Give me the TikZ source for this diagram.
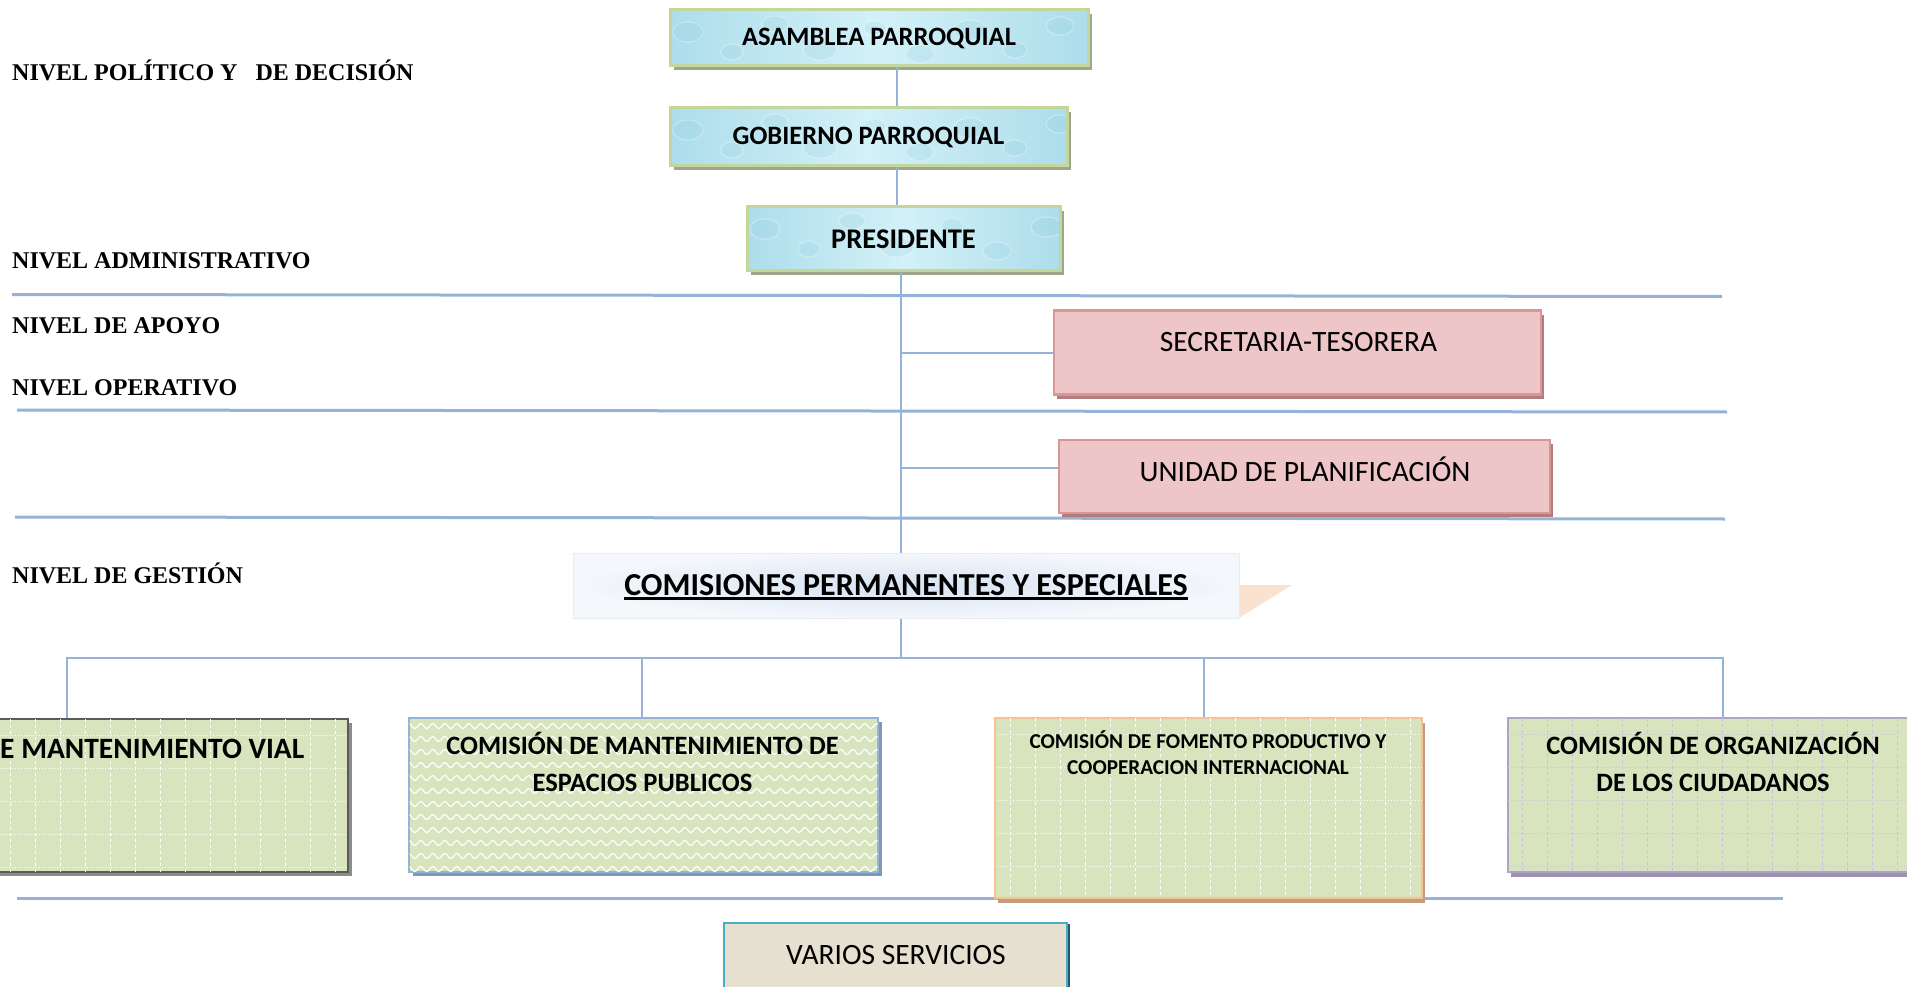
\documentclass[tikz,border=0pt]{standalone}
\usepackage{fontspec}
\setmainfont{Carlito}
\newfontfamily\lvfont{Liberation Serif}
\usetikzlibrary{decorations.pathmorphing,shadows}
\definecolor{linecol}{HTML}{95B3D7}
\definecolor{blueA}{HTML}{ADDDEB}
\definecolor{blueB}{HTML}{D3F1F8}
\definecolor{bubble}{HTML}{8FCCE0}
\definecolor{blueborder}{HTML}{C3D69B}
\definecolor{blueshadow}{HTML}{9EA68C}
\definecolor{pinkfill}{HTML}{EFC6C7}
\definecolor{pinkborder}{HTML}{D99694}
\definecolor{pinkshadow}{HTML}{B27C7E}
\definecolor{comin}{HTML}{D6E3F3}
\definecolor{comout}{HTML}{F4F7FB}
\definecolor{comborder}{HTML}{E6ECF3}
\definecolor{peach}{HTML}{FBE2CF}
\definecolor{greenfill}{HTML}{D7E4BD}
\definecolor{grayborder}{HTML}{5A5A5A}
\definecolor{grayshadow}{HTML}{8C8C8C}
\definecolor{b2shadow}{HTML}{7E98BA}
\definecolor{orborder}{HTML}{FAC090}
\definecolor{orshadow}{HTML}{C49A80}
\definecolor{puborder}{HTML}{B3A2C7}
\definecolor{pushadow}{HTML}{9C91AE}
\definecolor{pugrid}{HTML}{C9C2D9}
\definecolor{beige}{HTML}{E6E0D1}
\definecolor{tealborder}{HTML}{4BACC6}
\definecolor{tealshadow}{HTML}{23596A}
\newcommand\thickul[1]{\vtop{\hbox{#1}\kern2pt\hrule height 2.5pt}}
\tikzset{
  lvl/.style={inner sep=0pt, anchor=base west, font=\lvfont\bfseries\fontsize{24}{28}\selectfont},
  bubbles/.style={path picture={
    \foreach \bx/\by/\rx/\ry in {18/22/15/10, 62/42/11/8, 105/14/13/8, 150/40/17/10, 205/18/11/7, 250/44/14/9, 300/20/16/10, 345/40/12/8, 390/16/14/9}
      \draw[draw=white, draw opacity=.3, line width=1.2pt, fill=bubble, fill opacity=.18]
        ([shift={(\bx,\by)}]path picture bounding box.north west) ellipse [x radius=\rx pt, y radius=\ry pt];
  }},
  bluebox/.style={draw=blueborder, line width=3pt, left color=blueA, right color=blueA, middle color=blueB,
    general shadow={fill=blueshadow, shadow xshift=4pt, shadow yshift=-4pt}, inner sep=0pt, bubbles,
    font=\bfseries\fontsize{26.5}{30}\selectfont},
  pinkbox/.style={draw=pinkborder, line width=2.5pt, fill=pinkfill,
    general shadow={fill=pinkshadow, shadow xshift=3pt, shadow yshift=-4pt}, inner sep=0pt},
  conn/.style={draw=linecol, line width=2pt},
  lvline/.style={draw=linecol, line width=3pt},
  rtxt/.style={inner sep=0pt, anchor=base, font=\fontsize{29.5}{33}\selectfont},
  btxt/.style={inner sep=0pt, anchor=base, font=\bfseries\fontsize{26.5}{30}\selectfont},
  stxt/.style={inner sep=0pt, anchor=base, font=\bfseries\fontsize{21.2}{24}\selectfont},
  gridv/.style={draw=white, line width=1pt, dash pattern=on 3pt off 3pt},
  gridh/.style={draw=white, line width=1pt, dash pattern=on 1pt off 2pt},
  wave/.style={draw=white, line width=1.2pt, decorate, decoration={snake, segment length=12pt, amplitude=2.5pt}},
}
\begin{document}
\begin{tikzpicture}[x=1pt,y=-1pt]
\useasboundingbox (0,0) rectangle (1907,987);
% level separator lines
\draw[lvline] (12,294.5) -- (1722,296.5);
\draw[lvline] (17,410) -- (1727,412);
\draw[lvline] (15,517) -- (1725,519);
\draw[lvline] (17,898) -- (1783,898);
% level labels
\node[lvl] (l1) at (12,81) {NIVEL POLÍTICO Y\ \ \ DE DECISIÓN};
\node[lvl] (l2) at (12,269) {NIVEL ADMINISTRATIVO};
\node[lvl] (l3) at (12,333) {NIVEL DE APOYO};
\node[lvl] (l4) at (12,395) {NIVEL OPERATIVO};
\node[lvl] (l5) at (12,583) {NIVEL DE GESTIÓN};
% top boxes
\node[bluebox, minimum width=418pt, minimum height=56pt] (asm) at (879,38) {ASAMBLEA PARROQUIAL};
\node[bluebox, minimum width=397pt, minimum height=58pt] (gob) at (868.5,137) {GOBIERNO PARROQUIAL};
\node[bluebox, minimum width=313pt, minimum height=64pt, font=\bfseries\fontsize{28.5}{32}\selectfont] (pres) at (903.5,239) {PRESIDENTE};
% support boxes
\node[pinkbox, minimum width=487pt, minimum height=84pt] (sec) at (1297.5,352.5) {};
\node[rtxt] (sect) at (1298.5,351) {SECRETARIA-TESORERA};
\node[pinkbox, minimum width=491pt, minimum height=73pt] (uni) at (1304.5,476.5) {};
\node[rtxt] (unit) at (1305,481) {UNIDAD DE PLANIFICACIÓN};
% commissions title
\fill[peach] (1239,585) -- (1292,585) -- (1239,618) -- cycle;
\node[draw=comborder, line width=1pt, inner color=comin, outer color=comout, minimum width=666pt, minimum height=65pt, inner sep=0pt] (com) at (906,585.5) {};
\node[inner sep=0pt, anchor=base, font=\bfseries\fontsize{32}{36}\selectfont] (comt) at (906,595) {\thickul{COMISIONES PERMANENTES Y ESPECIALES}};
% commission boxes
\node[draw=grayborder, line width=2pt, fill=greenfill, general shadow={fill=grayshadow, shadow xshift=4pt, shadow yshift=-4pt},
  minimum width=393pt, minimum height=153pt, inner sep=0pt] (b1) at (151.5,795.5) {};
\node[draw=linecol, line width=2pt, fill=greenfill, general shadow={fill=b2shadow, shadow xshift=4pt, shadow yshift=-4pt},
  minimum width=469pt, minimum height=154pt, inner sep=0pt] (b2) at (643.5,795) {};
\node[draw=orborder, line width=2pt, fill=greenfill, general shadow={fill=orshadow, shadow xshift=3pt, shadow yshift=-5pt},
  minimum width=427pt, minimum height=180pt, inner sep=0pt] (b3) at (1208.5,808) {};
\node[draw=puborder, line width=2pt, fill=greenfill, general shadow={fill=pushadow, shadow xshift=3pt, shadow yshift=-5pt},
  minimum width=422pt, minimum height=154pt, inner sep=0pt] (b4) at (1719,795) {};
% patterns
\begin{scope}
\clip ([shift={(1.5pt,1.5pt)}]b1.south west) rectangle ([shift={(-1.5pt,-1.5pt)}]b1.north east);
\foreach \x in {-40,-15,...,350} \draw[gridv] (\x,719) -- (\x,872);
\foreach \y in {735,768,...,872} \draw[gridh] (-45,\y) -- (348,\y);
\end{scope}
\begin{scope}
\clip ([shift={(1.5pt,1.5pt)}]b2.south west) rectangle ([shift={(-1.5pt,-1.5pt)}]b2.north east);
\foreach \y in {726,739,...,870} \draw[wave] (405,\y) -- (882,\y);
\end{scope}
\begin{scope}
\clip ([shift={(1.5pt,1.5pt)}]b3.south west) rectangle ([shift={(-1.5pt,-1.5pt)}]b3.north east);
\foreach \x in {1010,1035,...,1422} \draw[gridv] (\x,718) -- (\x,898);
\foreach \y in {734,767,...,898} \draw[gridh] (995,\y) -- (1422,\y);
\end{scope}
\begin{scope}
\clip ([shift={(1.5pt,1.5pt)}]b4.south west) rectangle ([shift={(-1.5pt,-1.5pt)}]b4.north east);
\foreach \x in {1522,1547,...,1930} \draw[gridv, draw=pugrid] (\x,718) -- (\x,872);
\foreach \y in {734,767,...,872} \draw[gridh, draw=pugrid] (1508,\y) -- (1930,\y);
\end{scope}
% commission texts
\node[btxt, anchor=base west, font=\bfseries\fontsize{29.5}{33}\selectfont] (b1t) at (0,758) {E MANTENIMIENTO VIAL};
\node[btxt] (b2t1) at (642.5,754.5) {COMISIÓN DE MANTENIMIENTO DE};
\node[btxt] (b2t2) at (642.5,791.5) {ESPACIOS PUBLICOS};
\node[stxt] (b3t1) at (1208,748) {COMISIÓN DE FOMENTO PRODUCTIVO Y};
\node[stxt] (b3t2) at (1208,774) {COOPERACION INTERNACIONAL};
\node[btxt] (b4t1) at (1713,754.5) {COMISIÓN DE ORGANIZACIÓN};
\node[btxt] (b4t2) at (1713,791.5) {DE LOS CIUDADANOS};
% services
\node[draw=tealborder, line width=2.5pt, fill=beige, general shadow={fill=tealshadow, shadow xshift=3pt, shadow yshift=-1pt},
  minimum width=343pt, minimum height=66pt, inner sep=0pt] (vs) at (895.5,956) {};
\node[rtxt] (vst) at (896,964) {VARIOS SERVICIOS};
% connectors
\coordinate (sp1) at (897,0);
\coordinate (sp2) at (901,0);
\coordinate (br) at (0,658);
\coordinate (d1) at (67,0);
\coordinate (d2) at (642,0);
\coordinate (d3) at (1204,0);
\coordinate (d4) at (1723,0);
\coordinate (unic) at ([yshift=8.5pt]uni.west);
\draw[conn] (asm.south -| sp1) -- (gob.north -| sp1);
\draw[conn] (gob.south -| sp1) -- (pres.north -| sp1);
\draw[conn] (pres.south -| sp2) -- (com.north -| sp2);
\draw[conn] (sp2 |- sec.west) -- (sec.west);
\draw[conn] (sp2 |- unic) -- (unic);
\draw[conn] (com.south -| sp2) -- (sp2 |- br);
\draw[conn] (b1.north -| d1) -- (d1 |- br) -- (d4 |- br) -- (b4.north -| d4);
\draw[conn] (d2 |- br) -- (b2.north -| d2);
\draw[conn] (d3 |- br) -- (b3.north -| d3);
\end{tikzpicture}
\end{document}
